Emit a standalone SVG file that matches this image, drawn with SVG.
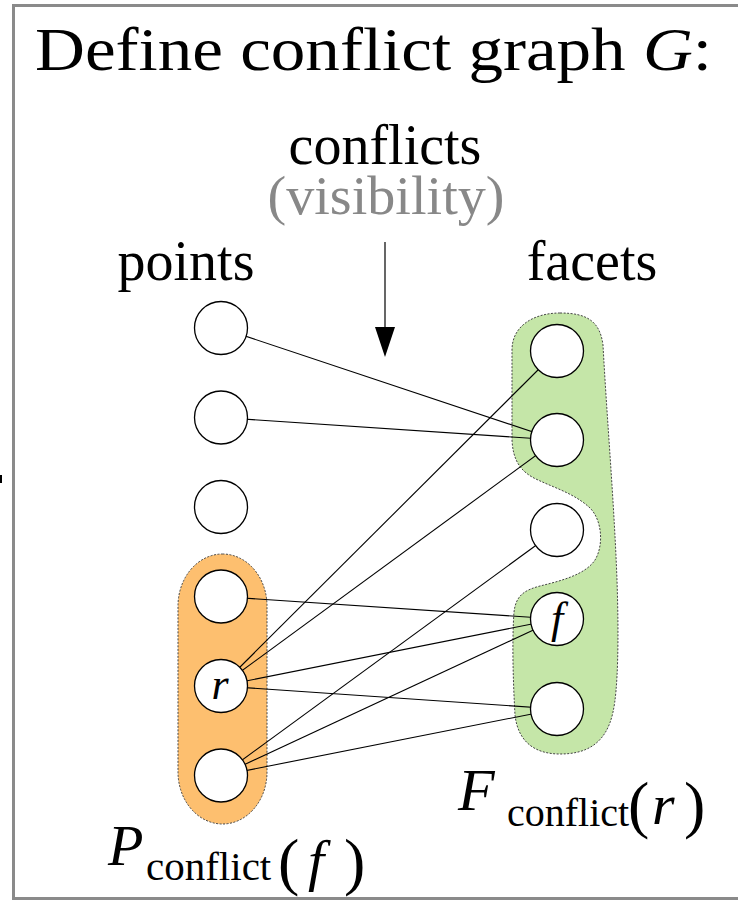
<svg xmlns="http://www.w3.org/2000/svg" width="738" height="905" viewBox="0 0 738 905">
  <style>
    .t { font-family: 'Liberation Serif', 'DejaVu Serif', 'Times New Roman', serif; fill: #000; }
    .it { font-style: italic; }
    .grey { fill: #888; }
    .node { fill: #fff; stroke: #000; stroke-width: 1.3; }
    .edge { stroke: #000; stroke-width: 1.1; fill: none; }
    .set { stroke: #444; stroke-width: 1; stroke-dasharray: 2 1.5; }
  </style>
  <defs>
    <marker id="arrowhead" markerUnits="userSpaceOnUse" markerWidth="30" markerHeight="20" refX="0" refY="10" orient="auto">
      <path d="M0,0 L30,10 L0,20 Z" fill="#000"/>
    </marker>
  </defs>

  <!-- white background and grey frame (right side runs off the page) -->
  <rect x="0" y="0" width="738" height="905" fill="#fff"/>
  <rect x="13.5" y="5.5" width="740" height="893" fill="none" stroke="#8a8a8a" stroke-width="3"/>
  <rect x="0" y="475" width="2" height="8" fill="#000"/>

  <!-- title -->
  <text class="t" x="35" y="70" font-size="62" textLength="677" lengthAdjust="spacingAndGlyphs">Define conflict graph <tspan class="it">G</tspan>:</text>

  <!-- headings -->
  <text class="t" x="385" y="164" font-size="56" text-anchor="middle">conflicts</text>
  <text class="t grey" x="386" y="214" font-size="54" text-anchor="middle" textLength="237" lengthAdjust="spacingAndGlyphs">(visibility)</text>
  <text class="t" x="186" y="280" font-size="56" text-anchor="middle">points</text>
  <text class="t" x="592" y="280" font-size="56" text-anchor="middle">facets</text>

  <!-- direction arrow -->
  <line x1="385" y1="242" x2="385" y2="327" stroke="#000" stroke-width="1.2" marker-end="url(#arrowhead)"/>

  <!-- highlighted sets -->
  <g id="set-P">
    <rect class="set" x="178" y="554" width="89" height="270" rx="44.5" ry="52" fill="#fdbf6f"/>
  </g>
  <g id="set-F">
    <path class="set" fill="#c5e6a8" d="M 560 313
      C 588 313 600 322 603 345
      C 607 420 614 500 617 580
      C 619 640 618 690 613 712
      C 606 745 585 754 560 754
      C 535 754 518 742 515 715
      C 513 680 512 640 514 612
      C 516 595 525 590 540 586
      C 560 581 585 575 595 560
      C 604 545 602 520 590 508
      C 575 494 555 488 538 480
      C 520 472 513 460 512 440
      L 512 350
      C 512 325 535 313 560 313 Z"/>
  </g>

  <!-- conflict edges -->
  <g id="edges">
    <line class="edge" x1="221" y1="328" x2="557" y2="440"/>
    <line class="edge" x1="221" y1="417.5" x2="557" y2="440"/>
    <line class="edge" x1="221" y1="686" x2="557" y2="351"/>
    <line class="edge" x1="221" y1="686" x2="557" y2="440"/>
    <line class="edge" x1="221" y1="775.5" x2="557" y2="530"/>
    <line class="edge" x1="221" y1="596.5" x2="557" y2="619"/>
    <line class="edge" x1="221" y1="686" x2="557" y2="619"/>
    <line class="edge" x1="221" y1="686" x2="557" y2="709"/>
    <line class="edge" x1="221" y1="775.5" x2="557" y2="619"/>
    <line class="edge" x1="221" y1="775.5" x2="557" y2="709"/>
  </g>

  <!-- point nodes -->
  <g id="p1"><circle class="node" cx="221" cy="328" r="26.5"/></g>
  <g id="p2"><circle class="node" cx="221" cy="417.5" r="26.5"/></g>
  <g id="p3"><circle class="node" cx="221" cy="507" r="26.5"/></g>
  <g id="p4"><circle class="node" cx="221" cy="596.5" r="26.5"/></g>
  <g id="p-r"><circle class="node" cx="221" cy="686" r="26.5"/>
    <text class="t it" x="220" y="699" font-size="44" text-anchor="middle">r</text></g>
  <g id="p6"><circle class="node" cx="221" cy="775.5" r="26.5"/></g>

  <!-- facet nodes -->
  <g id="f1"><circle class="node" cx="557" cy="351" r="26.5"/></g>
  <g id="f2"><circle class="node" cx="557" cy="440" r="26.5"/></g>
  <g id="f3"><circle class="node" cx="557" cy="530" r="26.5"/></g>
  <g id="f-f"><circle class="node" cx="557" cy="619" r="26.5"/>
    <text class="t it" x="557" y="633" font-size="44" text-anchor="middle">f</text></g>
  <g id="f5"><circle class="node" cx="557" cy="709" r="26.5"/></g>

  <!-- set labels -->
  <g id="label-P">
    <text class="t it" x="108" y="865" font-size="58">P</text>
    <text class="t" x="146" y="880" font-size="41">conflict</text>
    <text class="t" x="278" y="883" font-size="64">(</text>
    <text class="t it" x="308" y="880" font-size="58">f</text>
    <text class="t" x="344" y="883" font-size="64">)</text>
  </g>
  <g id="label-F">
    <text class="t it" x="458" y="810" font-size="60">F</text>
    <text class="t" x="507" y="826" font-size="40">conflict</text>
    <text class="t" x="628" y="826" font-size="64">(</text>
    <text class="t it" x="652" y="824" font-size="58">r</text>
    <text class="t" x="684" y="826" font-size="64">)</text>
  </g>
</svg>
